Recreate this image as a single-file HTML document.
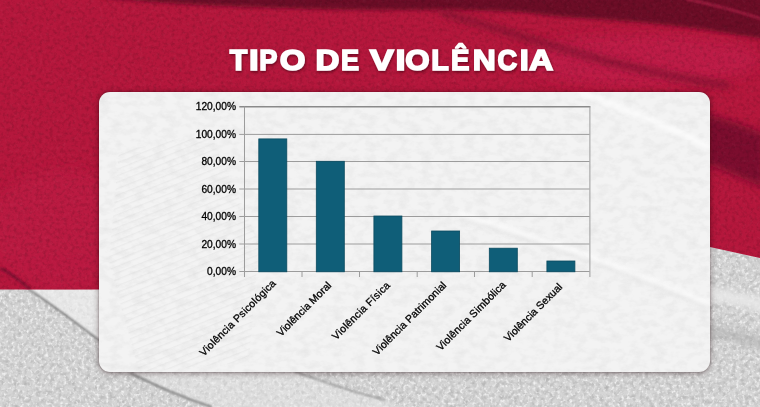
<!DOCTYPE html>
<html><head><meta charset="utf-8">
<style>
html,body{margin:0;padding:0;}
body{width:760px;height:407px;overflow:hidden;position:relative;background:#c9c9c9;font-family:"Liberation Sans",sans-serif;}
#bg{position:absolute;left:0;top:0;}
#title{position:absolute;left:0;top:0;will-change:transform;}
#card{position:absolute;left:99px;top:92px;width:611px;height:280px;border-radius:11px;overflow:hidden;background:#f3f3f3;box-shadow:0 1px 6px rgba(30,0,8,.45),0 0 2px rgba(30,0,8,.35);}
#chart{position:absolute;left:0;top:0;will-change:transform;}
</style></head>
<body>
<svg id="bg" width="760" height="407" viewBox="0 0 760 407">
  <defs>
    <filter id="noise" x="0" y="0" width="100%" height="100%">
      <feTurbulence type="fractalNoise" baseFrequency="0.28" numOctaves="3" seed="3" result="t"/>
      <feColorMatrix type="matrix" values="0 0 0 0 0  0 0 0 0 0  0 0 0 0 0  0 0 0 -2.2 1.25" in="t" result="dark"/>
      <feComposite in="dark" in2="SourceGraphic" operator="in"/>
    </filter>
    <filter id="noiseW" x="0" y="0" width="100%" height="100%">
      <feTurbulence type="fractalNoise" baseFrequency="0.3" numOctaves="3" seed="7" result="t"/>
      <feColorMatrix type="matrix" values="0 0 0 0 1  0 0 0 0 1  0 0 0 0 1  0 0 0 2.4 -1.25" in="t" result="w"/>
      <feComposite in="w" in2="SourceGraphic" operator="in"/>
    </filter>
    <filter id="gD" x="0" y="0" width="100%" height="100%">
      <feTurbulence type="fractalNoise" baseFrequency="0.22" numOctaves="2" seed="5" result="t"/>
      <feColorMatrix type="matrix" values="0 0 0 0 0  0 0 0 0 0  0 0 0 0 0  0 0 0 -2.0 1.2" in="t"/>
      <feComposite in2="SourceGraphic" operator="in"/>
    </filter>
    <filter id="gW" x="0" y="0" width="100%" height="100%">
      <feTurbulence type="fractalNoise" baseFrequency="0.33" numOctaves="2" seed="9" result="t"/>
      <feColorMatrix type="matrix" values="0 0 0 0 1  0 0 0 0 1  0 0 0 0 1  0 0 0 3.0 -1.5" in="t"/>
      <feComposite in2="SourceGraphic" operator="in"/>
    </filter>
    <filter id="blur6" filterUnits="userSpaceOnUse" x="-20" y="-20" width="800" height="450"><feGaussianBlur stdDeviation="6"/></filter>
    <filter id="blur3" filterUnits="userSpaceOnUse" x="-20" y="-20" width="800" height="450"><feGaussianBlur stdDeviation="3"/></filter>
    <filter id="blur4" filterUnits="userSpaceOnUse" x="-20" y="-20" width="800" height="450"><feGaussianBlur stdDeviation="4"/></filter>
    <filter id="blur2" filterUnits="userSpaceOnUse" x="-20" y="-20" width="800" height="450"><feGaussianBlur stdDeviation="2"/></filter>
    <filter id="blur1" filterUnits="userSpaceOnUse" x="-20" y="-20" width="800" height="450"><feGaussianBlur stdDeviation="1"/></filter>
    <clipPath id="redclip"><polygon points="0,0 760,0 760,258 710,247 600,230 99,289.5 0,289.5"/></clipPath>
  </defs>
  <rect x="0" y="0" width="760" height="407" fill="#d5d5d5"/>
  <path d="M28,289 L100,289 L100,341 C80,325 55,305 28,289 Z" fill="#e6e6e6" opacity="0.92"/>
  <path d="M130,372 L295,372 C320,380 350,392 385,400 L400,410 L212,410 C180,397 155,385 130,372 Z" fill="#e0e0e0" opacity="0.75" filter="url(#blur1)"/>
  <g opacity="0.15"><rect x="0" y="0" width="760" height="407" filter="url(#gD)" fill="#000"/></g>
  <g opacity="0.7"><rect x="0" y="0" width="760" height="407" filter="url(#gW)" fill="#fff"/></g>
  <path d="M28,289 L100,289 L100,341 C80,325 55,305 28,289 Z" fill="#ebebeb" opacity="0.6"/>
  <path d="M130,372 L295,372 C320,380 350,392 385,400 L400,410 L212,410 C180,397 155,385 130,372 Z" fill="#e4e4e4" opacity="0.4" filter="url(#blur1)"/>
  <!-- creases on grey -->
  <path d="M29,289.5 C50,303 75,322 100,341" stroke="#7a7a7a" stroke-width="2" fill="none" filter="url(#blur1)"/>
  <path d="M130,373 C155,385 180,397 212,407" stroke="#7e7e7e" stroke-width="2" fill="none" filter="url(#blur1)"/>
  <path d="M295,372 C320,380 350,392 385,400" stroke="#8e8e8e" stroke-width="1.6" fill="none" filter="url(#blur1)"/>
  <!-- light streak right -->
  <path d="M700,292 C725,296 745,300 765,306" stroke="#e8e8e8" stroke-width="14" fill="none" filter="url(#blur3)" opacity="0.85"/>
  <path d="M700,330 C725,332 745,338 765,345" stroke="#a8a8a8" stroke-width="10" fill="none" filter="url(#blur4)" opacity="0.6"/>
  <!-- red region -->
  <g clip-path="url(#redclip)">
    <rect x="0" y="0" width="760" height="300" fill="#b5173c"/>
    <!-- brighter zones -->
    <ellipse cx="60" cy="230" rx="70" ry="60" fill="#be1b45" filter="url(#blur6)" opacity="0.6"/>
    <ellipse cx="640" cy="60" rx="120" ry="25" fill="#c01e4a" filter="url(#blur6)" opacity="0.8"/>
    <!-- dark top band -->
    <path d="M90,-4 L770,-4 L770,40 C745,36 720,32 700,29 C670,25 640,22 610,20 C580,18 555,17 530,13 C490,10 450,10 400,10 C340,10 300,9 250,7 C200,5 150,3 90,-4 Z" fill="#6c0e28" filter="url(#blur2)"/>
    <path d="M686,-1 C710,4 735,10 762,19" stroke="#a01d40" stroke-width="2.5" fill="none" filter="url(#blur1)"/>
    <path d="M440,12 C490,26 550,46 610,62 C650,72 690,80 730,86" stroke="#861232" stroke-width="7" fill="none" filter="url(#blur3)" opacity="0.85"/>
    <!-- dark band right -->
    <path d="M706,114 C725,118 745,126 765,134 L765,188 C745,180 725,170 706,164 Z" fill="#7c102d" filter="url(#blur4)"/>
    <!-- dark crease on left bottom of red -->
    <path d="M0,268 C12,274 22,282 30,289.5" stroke="#7e1232" stroke-width="3" fill="none" filter="url(#blur1)"/>
    <g opacity="0.14"><rect x="0" y="0" width="760" height="300" filter="url(#noise)" fill="#000"/></g>
    <g opacity="0.04"><rect x="0" y="0" width="760" height="300" filter="url(#noiseW)" fill="#fff"/></g>
  </g>
</svg>
<svg id="title" width="760" height="100" viewBox="0 0 760 100">
  <defs><filter id="ts" x="-10%" y="-10%" width="120%" height="130%"><feDropShadow dx="0.8" dy="1.5" stdDeviation="1" flood-color="#3c000f" flood-opacity="0.6"/></filter></defs>
  <g font-family="Liberation Sans" font-weight="bold" font-size="29.6" fill="#fff" stroke="#fff" stroke-width="1.6" filter="url(#ts)">
    <text transform="translate(229.87 69.7) scale(0.970 1)">T</text>
    <text transform="translate(249.03 69.7) scale(1.167 1)">I</text>
    <text transform="translate(259.28 69.7) scale(0.916 1)">P</text>
    <text transform="translate(279.80 69.7) scale(1.117 1)">O</text>
    <text transform="translate(315.38 69.7) scale(1.120 1)">D</text>
    <text transform="translate(340.88 69.7) scale(0.916 1)">E</text>
    <text transform="translate(369.82 69.7) scale(1.218 1)">V</text>
    <text transform="translate(395.58 69.7) scale(1.217 1)">I</text>
    <text transform="translate(405.30 69.7) scale(1.057 1)">O</text>
    <text transform="translate(431.23 69.7) scale(0.971 1)">L</text>
    <text transform="translate(451.07 69.7) scale(0.932 1)">Ê</text>
    <text transform="translate(472.63 69.7) scale(1.074 1)">N</text>
    <text transform="translate(497.40 69.7) scale(0.918 1)">C</text>
    <text transform="translate(519.72 69.7) scale(1.083 1)">I</text>
    <text transform="translate(529.10 69.7) scale(1.132 1)">A</text>
  </g>
</svg>
<div id="card"><svg width="611" height="280" viewBox="0 0 611 280" style="display:block">
  <defs>
    <filter id="cn" x="0" y="0" width="100%" height="100%">
      <feTurbulence type="fractalNoise" baseFrequency="0.09 0.14" numOctaves="3" seed="11" result="t"/>
      <feColorMatrix type="matrix" values="0 0 0 0 0.45  0 0 0 0 0.45  0 0 0 0 0.45  0 0 0 -1.6 0.95" in="t"/>
      <feComposite in2="SourceGraphic" operator="in"/>
    </filter>
    <filter id="cb"><feGaussianBlur stdDeviation="2"/></filter>
    <filter id="cb5" x="-20%" y="-20%" width="140%" height="140%"><feGaussianBlur stdDeviation="5"/></filter>
    <filter id="cb5s"><feGaussianBlur stdDeviation="0.6"/></filter>
  </defs>
  <g opacity="0.2"><rect width="611" height="280" fill="#000" filter="url(#cn)"/></g>
  <path d="M480,0 C530,18 570,35 611,55" stroke="#fff" stroke-width="6" fill="none" filter="url(#cb)" opacity="0.7"/>
  <path d="M360,126 C440,149 530,182 611,216" stroke="#d8d8d8" stroke-width="4" fill="none" filter="url(#cb)" opacity="0.5"/>
  <path d="M360,122 C440,145 530,178 611,212" stroke="#fff" stroke-width="5" fill="none" filter="url(#cb)" opacity="0.7"/>
  <pattern id="st" width="6" height="6" patternUnits="userSpaceOnUse" patternTransform="rotate(-22)"><rect width="6" height="1.3" fill="#cfcfcf"/></pattern>
  <path d="M20,60 L110,40 L160,150 L150,270 L40,280 L10,170 Z" fill="url(#st)" opacity="0.2" filter="url(#cb5s)"/>
</svg></div>
<svg id="chart" width="760" height="407" viewBox="0 0 760 407">
  <g stroke="#9c9c9c" stroke-width="1" fill="none">
    <line x1="239.3" y1="106.8" x2="590.4" y2="106.8" stroke="#8a8a8a" stroke-width="1.4"/>
    <line x1="239.3" y1="134.4" x2="589.6" y2="134.4"/>
    <line x1="239.3" y1="161.5" x2="589.6" y2="161.5"/>
    <line x1="239.3" y1="189" x2="589.6" y2="189"/>
    <line x1="239.3" y1="216.5" x2="589.6" y2="216.5"/>
    <line x1="239.3" y1="244" x2="589.6" y2="244"/>
    <line x1="239.3" y1="271.5" x2="589.6" y2="271.5"/>
    <line x1="244.5" y1="106.5" x2="244.5" y2="277"/>
    <line x1="589.9" y1="106.5" x2="589.9" y2="277"/>
    <line x1="302" y1="272" x2="302" y2="277"/>
    <line x1="359.5" y1="272" x2="359.5" y2="277"/>
    <line x1="417.2" y1="272" x2="417.2" y2="277"/>
    <line x1="474.5" y1="272" x2="474.5" y2="277"/>
    <line x1="532.2" y1="272" x2="532.2" y2="277"/>
  </g>
  <g fill="#0f5e78" stroke="#0b4a5f" stroke-width="0.8">
    <rect x="258.8" y="138.9" width="28" height="132.9"/>
    <rect x="316.3" y="161.3" width="28" height="110.5"/>
    <rect x="373.9" y="216" width="28" height="55.8"/>
    <rect x="431.6" y="231" width="28" height="40.8"/>
    <rect x="489.3" y="248.2" width="28" height="23.6"/>
    <rect x="546.9" y="261" width="28" height="10.8"/>
  </g>
  <g id="yl" font-family="Liberation Sans" font-size="10.2" fill="#000" stroke="#000" stroke-width="0.3" text-anchor="end">
    <text x="236" y="110.15">120,00%</text>
    <text x="236" y="137.65">100,00%</text>
    <text x="236" y="165.15">80,00%</text>
    <text x="236" y="192.65">60,00%</text>
    <text x="236" y="220.15">40,00%</text>
    <text x="236" y="247.65">20,00%</text>
    <text x="236" y="275.15">0,00%</text>
  </g>
  <g id="xl" font-family="Liberation Sans" font-size="10.5" fill="#000" stroke="#000" stroke-width="0.3" text-anchor="end">
    <text transform="translate(276.5,284) rotate(-45)" textLength="102.8">Violência Psicológica</text>
    <text transform="translate(332,286) rotate(-45)" textLength="72">Violência Moral</text>
    <text transform="translate(390.7,286) rotate(-45)" textLength="77">Violência Física</text>
    <text transform="translate(447,286) rotate(-45)" textLength="98.9">Violência Patrimonial</text>
    <text transform="translate(506.5,285.5) rotate(-45)" textLength="93.1">Violência Simbólica</text>
    <text transform="translate(563,287.5) rotate(-45)" textLength="77.5">Violência Sexual</text>
  </g>
</svg>
</body></html>
